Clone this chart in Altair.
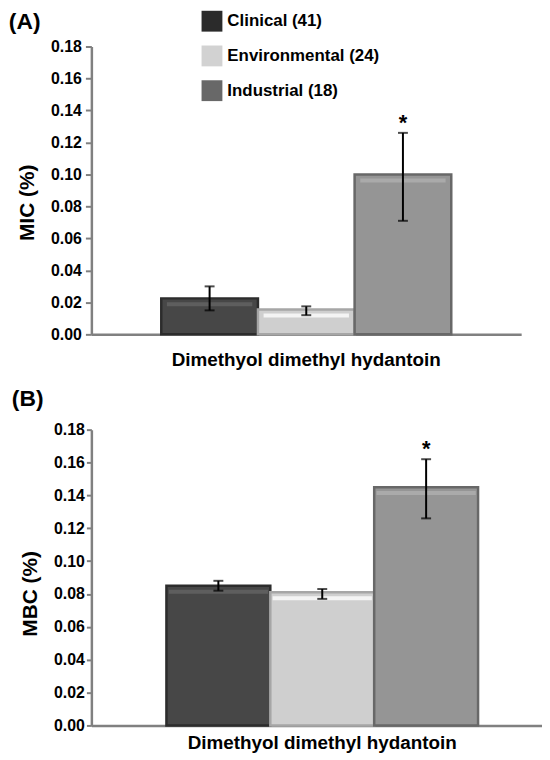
import altair as alt
import pandas as pd

FONT = "Liberation Sans"

# ---- data ----
groups = ["Clinical (41)", "Environmental (24)", "Industrial (18)"]
agent = "Dimethyol dimethyl hydantoin"
significant = ["", "", "*"]

mic = [0.0225, 0.0155, 0.100]
mic_lo = [0.015, 0.012, 0.071]
mic_hi = [0.030, 0.0175, 0.126]

mbc = [0.085, 0.081, 0.145]
mbc_lo = [0.082, 0.077, 0.126]
mbc_hi = [0.088, 0.083, 0.162]

y_ticks = [0.00, 0.02, 0.04, 0.06, 0.08, 0.10, 0.12, 0.14, 0.16, 0.18]

bar_colors = ["#474747", "#cfcfcf", "#959595"]
edge_colors = ["#2c2c2c", "#a6a6a6", "#686868"]
shine_colors = ["#5e5e5e", "#f4f4f4", "#aaaaaa"]
legend_colors = ["#2b2b2b", "#d2d2d2", "#686868"]


def panel(values, lo, hi, ytitle, tag, width, height, pad_outer, align,
          show_legend, tick_size, label_pad, x_label_pad, shine_size,
          title_shift, title_offset):
    df = pd.DataFrame({
        "agent": [agent] * len(groups),
        "group": groups,
        "value": values,
        "lo": lo,
        "hi": hi,
        "sig": significant,
    })
    base = alt.Chart(df)

    x = alt.X(
        "agent:N",
        scale=alt.Scale(paddingInner=0, paddingOuter=pad_outer, align=align),
        axis=alt.Axis(
            title=None, labelAngle=0, ticks=False, labelFontSize=19,
            labelFont=FONT, labelFontWeight="bold", labelColor="black",
            labelPadding=x_label_pad, labelLimit=600, domainColor="#808080",
            domainWidth=2.5,
        ),
    )
    xo = alt.XOffset("group:N", sort=groups,
                     scale=alt.Scale(paddingInner=0, paddingOuter=0))
    yaxis = alt.Axis(
        title=ytitle, values=y_ticks, format=".2f", grid=False,
        domainColor="#808080", domainWidth=2.5, tickColor="#808080",
        tickWidth=2, tickSize=tick_size, labelPadding=label_pad,
        labelFontSize=16, labelFont=FONT, labelFontWeight="bold",
        labelColor="black", titleFontSize=21, titleFont=FONT,
        titleFontWeight="bold", titleColor="black", titlePadding=13,
        titleY=height / 2 + title_shift,
    )
    yscale = alt.Scale(domain=[0, 0.18], nice=False, zero=True)

    layers = []
    if show_legend:
        legend_layer = base.transform_filter("false").mark_square(
            opacity=1, filled=True
        ).encode(
            x=x, xOffset=xo, y=alt.Y("value:Q", scale=yscale, axis=yaxis),
            fill=alt.Fill(
                "group:N", sort=groups,
                scale=alt.Scale(domain=groups, range=legend_colors),
                legend=alt.Legend(
                    title=None, orient="none", legendX=111, legendY=-36,
                    symbolType="square", symbolSize=441, symbolOpacity=1,
                    symbolStrokeWidth=0, labelFont=FONT, labelFontSize=17,
                    labelFontWeight="bold", labelColor="black",
                    labelOffset=5, rowPadding=14, padding=0,
                ),
            ),
        )
        layers.append(legend_layer)

    bars = base.mark_bar(strokeWidth=2.5).encode(
        x=x, xOffset=xo,
        y=alt.Y("value:Q", scale=yscale, axis=yaxis),
        color=alt.Color("group:N", sort=groups,
                        scale=alt.Scale(domain=groups, range=bar_colors),
                        legend=None),
        stroke=alt.Stroke("group:N", sort=groups,
                          scale=alt.Scale(domain=groups, range=edge_colors),
                          legend=None),
    )
    shine = base.mark_tick(thickness=4, size=shine_size, yOffset=6).encode(
        x=x, xOffset=xo,
        y=alt.Y("value:Q", scale=yscale, axis=yaxis),
        opacity=alt.value(1),
        stroke=alt.value(None),
    ).encode(
        color=alt.Color("group:N", sort=groups,
                        scale=alt.Scale(domain=groups, range=shine_colors),
                        legend=None),
    )
    rules = base.mark_rule(color="black", strokeWidth=2).encode(
        x=x, xOffset=xo,
        y=alt.Y("lo:Q", scale=yscale, axis=yaxis), y2="hi:Q",
    )
    cap_lo = base.mark_tick(color="black", thickness=2, size=10,
                            orient="horizontal").encode(
        x=x, xOffset=xo, y=alt.Y("lo:Q", scale=yscale, axis=yaxis))
    cap_hi = base.mark_tick(color="black", thickness=2, size=10,
                            orient="horizontal").encode(
        x=x, xOffset=xo, y=alt.Y("hi:Q", scale=yscale, axis=yaxis))
    stars = base.transform_filter("datum.sig != ''").mark_text(
        font=FONT, fontWeight="bold", fontSize=22, color="black",
        baseline="bottom", dy=2,
    ).encode(x=x, xOffset=xo, y=alt.Y("hi:Q", scale=yscale, axis=yaxis),
             text="sig:N")

    layers += [bars, shine, rules, cap_lo, cap_hi, stars]
    return alt.layer(*layers).resolve_scale(color="independent").properties(
        width=width, height=height,
        title=alt.TitleParams(
            tag, anchor="start", frame="bounds", fontSize=23, font=FONT,
            fontWeight="bold", color="black", offset=title_offset, dx=-8,
        ),
    )


panel_a = panel(mic, mic_lo, mic_hi, "MIC (%)", "(A)", 433, 290, 0.241, 0.5,
                True, 6, 4, 16, 86, 12, 5)
panel_b = panel(mbc, mbc_lo, mbc_hi, "MBC (%)", "(B)", 454, 298, 0.223, 0.54,
                False, 5, 2, 8, 100, 16, 11)

chart = alt.vconcat(panel_a, panel_b, spacing=19).resolve_scale(
    x="independent", xOffset="independent"
).properties(
    padding={"left": 0, "top": 0, "right": 0, "bottom": 0}
).configure_view(stroke=None)

chart.save("out.html", embed_options={"renderer": "svg", "actions": False})
